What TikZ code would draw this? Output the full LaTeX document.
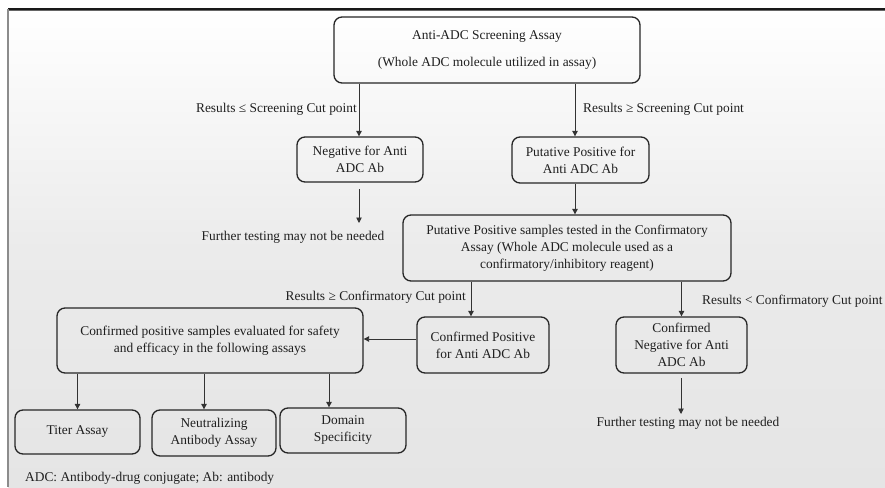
\documentclass[tikz,border=0pt]{standalone}
\usepackage{fontspec}
\setmainfont{Liberation Serif}
\usetikzlibrary{arrows.meta}
\begin{document}
\begin{tikzpicture}[x=1pt,y=-1pt,
  every node/.style={font=\fontsize{13.4}{17}\selectfont, text=black!88, inner sep=0pt},
  stepbox/.style={draw=black!85, line width=1.3pt, rounded corners=8pt, align=center},
  arr/.style={draw=black!80, line width=0.9pt, -{Triangle[length=5.5pt,width=5.5pt]}},
  lbl/.style={align=center}
]
% canvas, gradient panel and frame
\useasboundingbox (0,0) rectangle (885,487);
\fill[white] (0,0) rectangle (885,487);
\shade[top color=white, bottom color={rgb,255:red,235;green,235;blue,235}] (8,9) rectangle (885,250);
\shade[top color={rgb,255:red,235;green,235;blue,235}, bottom color={rgb,255:red,229;green,229;blue,229}] (8,250) rectangle (885,487);
\draw[black!60, line width=1pt] (8,10.5) -- (885,10.5);
\draw[black!90, line width=1.3pt] (8,9) -- (885,9);
\draw[black!45, line width=1.2pt] (8,9) -- (8,487);

% boxes
\node[stepbox, minimum width=306pt, minimum height=66pt] (top) at (487,50)
  {Anti-ADC Screening Assay\\[10pt](Whole ADC molecule utilized in assay)};
\node[stepbox, minimum width=126pt, minimum height=45pt] (neg) at (360,159.5)
  {Negative for Anti\\ADC Ab};
\node[stepbox, minimum width=137pt, minimum height=46pt] (pp) at (580.5,160)
  {Putative Positive for\\Anti ADC Ab};
\node[stepbox, minimum width=328pt, minimum height=66pt] (conf) at (567,248)
  {Putative Positive samples tested in the Confirmatory\\Assay (Whole ADC molecule used as a\\confirmatory/inhibitory reagent)};
\node[stepbox, minimum width=132pt, minimum height=56pt] (cpos) at (483,345)
  {Confirmed Positive\\for Anti ADC Ab};
\node[stepbox, minimum width=131pt, minimum height=56pt] (cneg) at (681.5,345)
  {Confirmed\\Negative for Anti\\ADC Ab};
\node[stepbox, minimum width=306pt, minimum height=65pt] (eval) at (210,340.5)
  {Confirmed positive samples evaluated for safety\\and efficacy in the following assays};
\node[stepbox, minimum width=125pt, minimum height=44pt] (titer) at (77.5,432)
  {Titer Assay};
\node[stepbox, minimum width=124pt, minimum height=46pt] (neut) at (214,433)
  {Neutralizing\\Antibody Assay};
\node[stepbox, minimum width=126pt, minimum height=45pt] (dom) at (343,430.5)
  {Domain\\Specificity};

% free-standing texts
\node[lbl] (fur1) at (293,237) {Further testing may not be needed};
\node[lbl] (fur2) at (688,423) {Further testing may not be needed};
\node[anchor=east] (l1) at (357,109) {Results ≤ Screening Cut point};
\node[anchor=west] (l2) at (583,109) {Results ≥ Screening Cut point};
\node[anchor=east] (l3) at (466,297) {Results ≥ Confirmatory Cut point};
\node[anchor=west] (l4) at (702,301) {Results < Confirmatory Cut point};
\node[anchor=west] (foot) at (25,478) {ADC: Antibody-drug conjugate; Ab: antibody};

% connector guide positions
\coordinate (xn) at (359,0);
\coordinate (xp) at (575,0);
\coordinate (xc) at (471,0);
\coordinate (xm) at (204,0);
\coordinate (xd) at (329,0);
\coordinate (yh) at (0,339);
\coordinate (n1) at (359,189);
\coordinate (n1e) at (359,223);
\coordinate (n2) at (681,378);
\coordinate (n2e) at (681,414);

% connectors
\draw[arr] (xn |- top.south) -- (xn |- neg.north);
\draw[arr] (xp |- top.south) -- (xp |- pp.north);
\draw[arr] (n1) -- (n1e);
\draw[arr] (xp |- pp.south) -- (xp |- conf.north);
\draw[arr] (xc |- conf.south) -- (xc |- cpos.north);
\draw[arr] (cneg.north |- conf.south) -- (cneg.north);
\draw[arr] (n2) -- (n2e);
\draw[arr] (cpos.west |- yh) -- (eval.east |- yh);
\draw[arr] (titer.north |- eval.south) -- (titer.north);
\draw[arr] (xm |- eval.south) -- (xm |- neut.north);
\draw[arr] (xd |- eval.south) -- (xd |- dom.north);
\end{tikzpicture}
\end{document}
